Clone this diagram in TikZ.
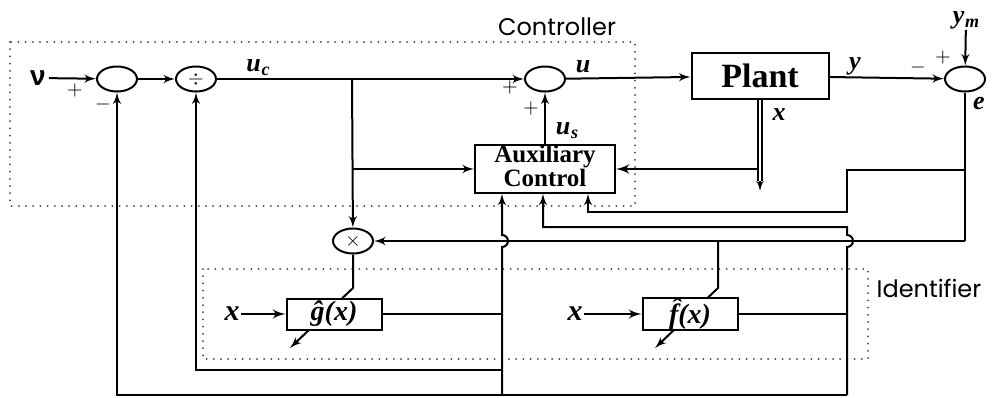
\documentclass[tikz,border=0pt]{standalone}
\usepackage{fontspec}
\setmainfont{Liberation Serif}
\newfontfamily\framefont{Poppins}
\newfontfamily\nufont{Liberation Sans}
\usepackage{tikz}
\usetikzlibrary{shapes.geometric,arrows,positioning,calc}

\newcommand{\sigsub}[2]{#1\kern0.3pt\raisebox{-0.35ex}{\fontsize{9}{9}\selectfont #2}}

\begin{document}
\begin{tikzpicture}[x=0.5pt, y=-0.5pt, line width=1pt,
    sumnode/.style={ellipse, draw, minimum width=20pt, minimum height=12.5pt, inner sep=0pt},
    block/.style={rectangle, draw, fill=white, inner sep=0pt, align=center},
    sig/.style={font=\fontsize{13}{13}\selectfont\bfseries\itshape, inner sep=0pt},
    sgn/.style={font=\fontsize{10}{10}\selectfont, inner sep=0pt},
    frame/.style={draw=black!75, line width=1pt, line cap=round, dash pattern=on 0pt off 3.6pt},
    framelabel/.style={font=\framefont\fontsize{12}{12}\selectfont, inner sep=0pt},
    line/.style={draw, -latex'}]
\useasboundingbox (0,0) rectangle (996,397);

% Dotted frames
\draw[frame] (10,42) rectangle (635,206);
\node[framelabel] (ctrl) at (557,27) {Controller};
\draw[frame] (203,269) rectangle (868,359);
\node[framelabel] (ident) at (929,288) {Identifier};

% Forward path
\node[font=\nufont\bfseries\fontsize{14}{14}\selectfont, inner sep=1pt] (nu) at (38,78) {ν};
\node[sumnode] (sumA) at (117,79) {};
\node[sumnode] (divd) at (196,79) {$\div$};
\node[sumnode] (sumB) at (545,79) {};
\node[block, minimum width=68.5pt, minimum height=23pt, font=\bfseries\fontsize{17}{17}\selectfont] (plant) at (760,76) {Plant};
\node[sumnode] (sumE) at (965,79) {};
\node[sig] (ym) at (966,20) {\sigsub{y}{m}};
\node[block, minimum width=70pt, minimum height=22.5pt, font=\bfseries\fontsize{12.5}{10.5}\selectfont] (aux) at (545,169) {Auxiliary\\[-0.5pt]Control\strut};
\node[sumnode] (mult) at (353,241) {$\times$};

\coordinate (uc) at (352,79);
\coordinate (ja) at (352,169);
\draw[line] (nu) -- (sumA);
\draw[line] (sumA) -- (divd);
\draw (divd) -- (uc);
\draw[line] (uc) -- (sumB);
\draw[line] (sumB) -- (plant);
\draw[line] (plant) -- (sumE);
\draw[line] (ym) -- (sumE);
\draw[line] (aux) -- (sumB);
\draw[line] (uc) -- (mult);
\draw[line] (ja) -- (aux);

% Signs and signal names
\node[sgn] (pA) at (75,90) {$+$};
\node[sgn] (mA) at (103,104) {$-$};
\node[sgn] (pB) at (510,87) {$+$};
\node[sgn] (pC) at (531,108) {$+$};
\node[sgn] (mE) at (918,67) {$-$};
\node[sgn] (pE) at (943,57) {$+$};
\node[sig] (lbluc) at (258,68) {\sigsub{u}{c}};
\node[sig] (lblu) at (583,67) {u};
\node[sig] (lbly) at (855,66) {y};
\node[sig] (lble) at (979,103) {e};
\node[sig] (lblus) at (567,131) {\sigsub{u}{s}};
\node[sig] (lblx) at (779,115) {x};

% State x
\coordinate (xe) at (760,191);
\coordinate (xd) at (760,181);
\coordinate (xj) at (760,169);
\draw[line, line width=1.3pt] (xj) -- (aux);
\draw[double, double distance=1.3pt, line width=0.7pt] (plant.south -| xe) -- (xd);
\draw[-latex', line width=0.8pt] (xd) -- (xe);

% Error e
\coordinate (ea) at (965,170);
\coordinate (eb) at (965,241);
\coordinate (ec) at (847,170);
\coordinate (ed) at (847,212);
\coordinate (ee) at (588,212);
\draw (sumE) -- (eb);
\draw[line] (ea) -- (ec) -- (ed) -- (ee) -- (ee |- aux.south);
\draw[line] (eb) -- (mult);

% Adaptation
\coordinate (fa) at (718,241);
\coordinate (fb) at (718,288);
\coordinate (fc) at (655,348);
\coordinate (gb) at (353,288);
\coordinate (gc) at (290,348);
\draw[line] (mult) -- (gb) -- (gc);
\draw[line] (fa) -- (fb) -- (fc);

% Identifier
\node[block, minimum width=47.5pt, minimum height=15.5pt, font=\fontsize{14}{14}\selectfont\bfseries\itshape] (ghat) at (334,314) {\^{g}(x)};
\node[block, minimum width=47.5pt, minimum height=14.5pt, font=\fontsize{14}{14}\selectfont\bfseries\itshape] (fhat) at (690,314) {\^{f}(x)};
\node[sig, font=\fontsize{15}{15}\selectfont\bfseries\itshape] (xg) at (232,314) {x};
\node[sig, font=\fontsize{15}{15}\selectfont\bfseries\itshape] (xf) at (575,314) {x};
\draw[line, line width=1.2pt] (xg) -- (ghat);
\draw[line, line width=1.2pt] (xf) -- (fhat);

% g-hat feedback
\coordinate (ga) at (502,314);
\coordinate (gd) at (502,395);
\coordinate (ge) at (502,370);
\coordinate (gf) at (196,370);
\draw (ghat) -- (ga);
\draw[line] (gd) -- (502,247) arc (-90:90:3pt) -- (gd |- aux.south);
\draw[line] (ge) -- (gf) -- (divd);

% f-hat feedback
\coordinate (fd) at (847,314);
\coordinate (fe) at (847,395);
\coordinate (ff) at (847,227);
\coordinate (fg) at (543,227);
\coordinate (fh) at (117,395);
\draw (fhat) -- (fd);
\draw[line] (fe) -- (847,247) arc (-90:90:3pt) -- (ff) -- (fg) -- (fg |- aux.south);
\draw[line] (fe) -- (fh) -- (sumA);
\end{tikzpicture}
\end{document}
